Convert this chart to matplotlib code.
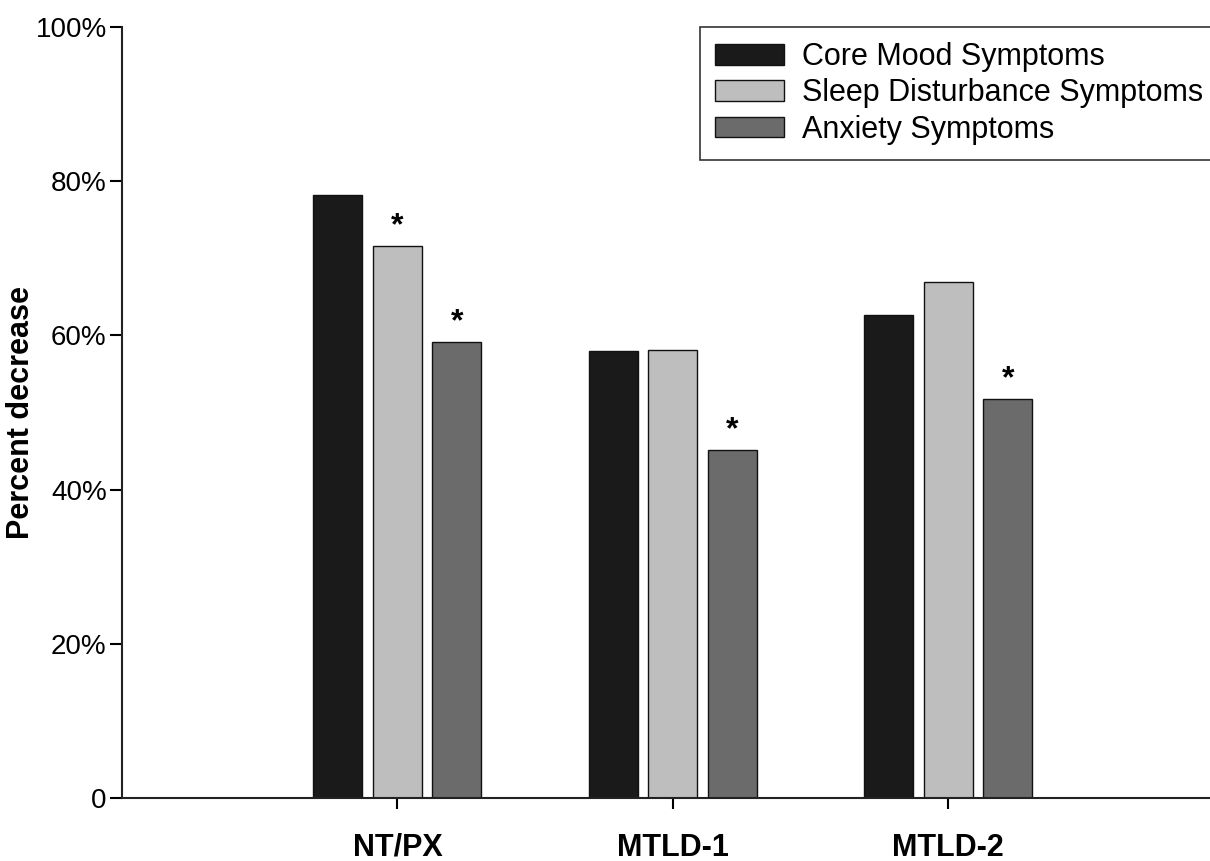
import numpy as np
import matplotlib
matplotlib.use("Agg")
import matplotlib.pyplot as plt

plt.rcParams['font.family'] = ['Liberation Sans', 'DejaVu Sans']

# data (percent decrease)
groups = ["NT/PX", "MTLD-1", "MTLD-2"]
series = ["Core Mood Symptoms", "Sleep Disturbance Symptoms", "Anxiety Symptoms"]
core_mood = [78.2, 58.0, 62.6]
sleep_dist = [71.6, 58.1, 66.9]
anxiety = [59.1, 45.1, 51.8]
# asterisks: (group index, series index)
signif = [(0, 1), (0, 2), (1, 2), (2, 2)]

colors = ["#1a1a1a", "#bebebe", "#6b6b6b"]
values = [core_mood, sleep_dist, anxiety]

fig = plt.figure(figsize=(12.1, 8.61), dpi=100)
ax = fig.add_axes([0.1008, 0.0732, 0.8992, 0.8954])

x = np.arange(1, len(groups) + 1)
width = 0.178
step = 0.216
for i, (vals, c, name) in enumerate(zip(values, colors, series)):
    ax.bar(x + (i - 1) * step, vals, width, color=c, edgecolor="#111111",
           linewidth=1.0, label=name)

for g, s in signif:
    ax.text(x[g] + (s - 1) * step, values[s][g] + 0.6, "*", ha="center",
            va="bottom", fontsize=23, fontweight="bold")

ax.set_xlim(0, 3.95)
ax.set_ylim(0, 100)
ax.set_yticks([0, 20, 40, 60, 80, 100])
ax.set_yticklabels(["0", "20%", "40%", "60%", "80%", "100%"])
ax.set_xticks(x)
ax.set_xticklabels(groups, fontweight="bold", fontsize=22)
ax.tick_params(axis="y", labelsize=20, length=9, width=1.5, pad=2)
ax.tick_params(axis="x", length=8, width=1.5, pad=17)
ax.set_ylabel("Percent decrease", fontweight="bold", fontsize=22)
ax.yaxis.set_label_coords(-0.079, 0.5)

for sp in ["top", "right"]:
    ax.spines[sp].set_visible(False)
for sp in ["left", "bottom"]:
    ax.spines[sp].set_linewidth(1.5)
    ax.spines[sp].set_color("#222222")

leg = ax.legend(loc="upper left", bbox_to_anchor=(0.531, 1.0), fontsize=22,
                frameon=True, fancybox=False, edgecolor="black",
                handlelength=2.25, handleheight=0.65, handletextpad=0.6,
                labelspacing=0.2, borderpad=0.5, borderaxespad=0)
leg.get_frame().set_linewidth(1.2)

fig.savefig("out.png", dpi=100)
